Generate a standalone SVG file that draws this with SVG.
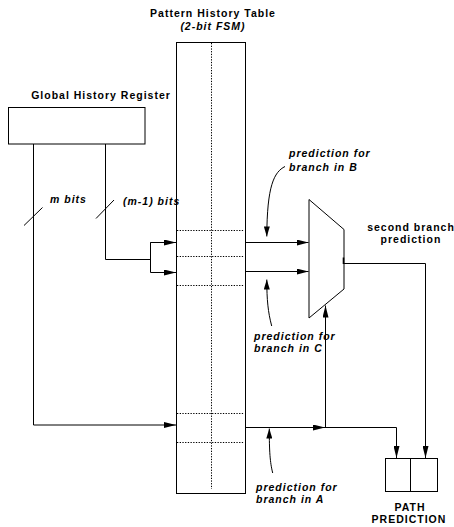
<svg xmlns="http://www.w3.org/2000/svg" width="454" height="527" viewBox="0 0 454 527">
<style>
text{font-family:"Liberation Sans",Arial,sans-serif;font-weight:bold;font-size:10.5px;letter-spacing:1px;fill:#000}
.it{font-style:italic}
.mid{text-anchor:middle}
.ln{fill:none;stroke:#000;stroke-width:1}
.box{fill:#fff;stroke:#000;stroke-width:1}
.dot{fill:none;stroke:#000;stroke-width:1;stroke-dasharray:1.3 1.4}
</style>
<defs>
<marker id="ah" viewBox="0 0 12 6" refX="12" refY="3" markerWidth="12" markerHeight="6" markerUnits="userSpaceOnUse" orient="auto">
<path d="M0,0 L12,3 L0,6 z" fill="#000"/>
</marker>
<marker id="ah2" viewBox="0 0 10 6" refX="10" refY="3" markerWidth="10" markerHeight="6" markerUnits="userSpaceOnUse" orient="auto">
<path d="M0,0 L10,3 L0,6 z" fill="#000"/>
</marker>
</defs>

<g id="pht">
<rect class="box" x="176.5" y="42.5" width="69" height="451"/>
<line class="dot" x1="211.5" y1="43" x2="211.5" y2="489"/>
<line class="dot" x1="177" y1="230.5" x2="244" y2="230.5"/>
<line class="dot" x1="177" y1="256.5" x2="244" y2="256.5"/>
<line class="dot" x1="177" y1="285.5" x2="244" y2="285.5"/>
<line class="dot" x1="177" y1="413.5" x2="244" y2="413.5"/>
<line class="dot" x1="177" y1="442.5" x2="244" y2="442.5"/>
<text class="mid" x="213" y="17">Pattern History Table</text>
<text class="mid it" x="213" y="29.5">(2-bit FSM)</text>
</g>

<g id="ghr">
<rect class="box" x="8.5" y="107.5" width="136.5" height="36.5"/>
<text class="mid" x="101" y="99">Global History Register</text>
</g>

<g id="mux">
<polygon class="box" points="309,199.5 344,229.5 344,289 309,318"/>
</g>

<g id="path-prediction">
<rect class="box" x="385.5" y="458.5" width="52" height="33"/>
<line class="ln" x1="410.5" y1="458.5" x2="410.5" y2="491.5"/>
<text class="mid" x="410" y="510.5">PATH</text>
<text class="mid" x="409" y="523.3">PREDICTION</text>
</g>

<g id="labels">
<text class="it" x="50" y="202.5">m bits</text>
<text class="it" x="123" y="205">(m-1) bits</text>
<text class="it" x="289" y="156.7">prediction for</text>
<text class="it" x="289" y="170.7">branch in B</text>
<text class="it" x="254" y="340">prediction for</text>
<text class="it" x="254" y="351.7">branch in C</text>
<text class="it" x="256" y="490.5">prediction for</text>
<text class="it" x="256" y="503.3">branch in A</text>
<text class="mid" x="411" y="231">second branch</text>
<text class="mid" x="411" y="243.3">prediction</text>
</g>

<g id="connectors">
<!-- m bits -->
<polyline class="ln" points="33.5,144 33.5,425 176,425" marker-end="url(#ah)"/>
<line class="ln" x1="24" y1="225.5" x2="42.5" y2="207.5"/>
<!-- m-1 bits -->
<polyline class="ln" points="105.5,144 105.5,259.5 150.5,259.5"/>
<line class="ln" x1="96" y1="218.5" x2="114" y2="200"/>
<polyline class="ln" points="176,242.5 150.5,242.5 150.5,272.5 176,272.5" marker-end="url(#ah)"/>
<line class="ln" x1="150.5" y1="242.5" x2="176" y2="242.5" marker-end="url(#ah)"/>
<!-- PHT to mux -->
<line class="ln" x1="245.5" y1="242.5" x2="308.5" y2="242.5" marker-end="url(#ah)"/>
<line class="ln" x1="245.5" y1="271.5" x2="308.5" y2="271.5" marker-end="url(#ah)"/>
<!-- mux output -->
<line x1="343.5" y1="257.5" x2="343.5" y2="264" stroke="#000" stroke-width="1.6"/>
<polyline class="ln" points="344,263.5 425.5,263.5 425.5,458" marker-end="url(#ah)"/>
<!-- lower path -->
<line class="ln" x1="245.5" y1="427.5" x2="325" y2="427.5" marker-end="url(#ah)"/>
<polyline class="ln" points="325,427.5 396.5,427.5 396.5,458" marker-end="url(#ah)"/>
<line class="ln" x1="325.5" y1="427.5" x2="325.5" y2="305.5" marker-end="url(#ah)"/>
<!-- annotation arrows -->
<path class="ln" d="M285,166.5 C274,172 267,186 266.8,236.5" marker-end="url(#ah2)"/>
<path class="ln" d="M271.7,326 C268,312 266.8,300 266.8,279.5" marker-end="url(#ah2)"/>
<path class="ln" d="M272.7,473 C270,462 269.3,452 269.3,428.5" marker-end="url(#ah2)"/>
</g>
</svg>
